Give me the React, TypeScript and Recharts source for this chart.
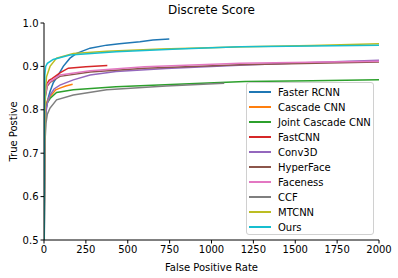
import React from 'react';
import { LineChart, Line, XAxis, YAxis } from 'recharts';

const fasterRcnnFp = [0, 5, 12, 20, 36, 55, 85, 115, 155, 195, 275, 374, 450, 573, 650, 748];
const fasterRcnnTp = [0.4, 0.75, 0.8, 0.82, 0.842, 0.862, 0.88, 0.9, 0.919, 0.93, 0.942, 0.949, 0.952, 0.957, 0.961, 0.963];
const cascadeFp = [0, 4, 8, 15, 30, 48, 70, 95, 130, 171];
const cascadeTp = [0.4, 0.75, 0.8, 0.816, 0.828, 0.836, 0.846, 0.85, 0.855, 0.859];
const jointFp = [0, 4, 10, 20, 36, 75, 175, 430, 940, 1200, 1600, 2000];
const jointTp = [0.4, 0.72, 0.8, 0.816, 0.826, 0.84, 0.846, 0.853, 0.861, 0.865, 0.867, 0.869];
const fastCnnFp = [0, 3, 8, 15, 30, 48, 95, 145, 250, 378];
const fastCnnTp = [0.4, 0.75, 0.84, 0.858, 0.868, 0.872, 0.885, 0.896, 0.899, 0.902];
const conv3dFp = [0, 4, 10, 20, 36, 60, 95, 175, 275, 430, 730, 1200, 1600, 2000];
const conv3dTp = [0.4, 0.7, 0.79, 0.815, 0.834, 0.848, 0.857, 0.869, 0.88, 0.888, 0.895, 0.903, 0.909, 0.914];
const hyperFaceFp = [0, 3, 8, 20, 36, 95, 275, 600, 1170, 2000];
const hyperFaceTp = [0.4, 0.75, 0.83, 0.855, 0.863, 0.877, 0.887, 0.896, 0.904, 0.91];
const facenessFp = [0, 3, 8, 20, 36, 95, 275, 600, 1170, 2000];
const facenessTp = [0.4, 0.76, 0.835, 0.858, 0.865, 0.88, 0.89, 0.899, 0.907, 0.912];
const ccfFp = [0, 5, 12, 20, 36, 75, 175, 374, 730, 1076];
const ccfTp = [0.4, 0.72, 0.77, 0.79, 0.804, 0.823, 0.834, 0.846, 0.855, 0.861];
const mtcnnFp = [0, 3, 8, 15, 36, 75, 175, 374, 700, 1200, 1600, 2000];
const mtcnnTp = [0.4, 0.75, 0.84, 0.876, 0.9, 0.919, 0.93, 0.935, 0.94, 0.945, 0.948, 0.952];
const oursFp = [0, 2, 5, 10, 20, 55, 155, 430, 800, 1170, 1600, 2000];
const oursTp = [0.4, 0.8, 0.88, 0.9, 0.907, 0.916, 0.926, 0.934, 0.94, 0.945, 0.947, 0.949];

const xTicks = [0, 250, 500, 750, 1000, 1250, 1500, 1750, 2000];
const yTicks = [0.5, 0.6, 0.7, 0.8, 0.9, 1.0];

const series = [
  { name: 'Faster RCNN', color: '#1f77b4', fp: fasterRcnnFp, tp: fasterRcnnTp },
  { name: 'Cascade CNN', color: '#ff7f0e', fp: cascadeFp, tp: cascadeTp },
  { name: 'Joint Cascade CNN', color: '#2ca02c', fp: jointFp, tp: jointTp },
  { name: 'FastCNN', color: '#d62728', fp: fastCnnFp, tp: fastCnnTp },
  { name: 'Conv3D', color: '#9467bd', fp: conv3dFp, tp: conv3dTp },
  { name: 'HyperFace', color: '#8c564b', fp: hyperFaceFp, tp: hyperFaceTp },
  { name: 'Faceness', color: '#e377c2', fp: facenessFp, tp: facenessTp },
  { name: 'CCF', color: '#7f7f7f', fp: ccfFp, tp: ccfTp },
  { name: 'MTCNN', color: '#bcbd22', fp: mtcnnFp, tp: mtcnnTp },
  { name: 'Ours', color: '#17becf', fp: oursFp, tp: oursTp },
];

const font = 'DejaVu Sans, sans-serif';
const tickStyle = { fontSize: 10, fill: '#000', fontFamily: font };

export default function App() {
  return (
    <div style={{ position: 'absolute', left: 0, top: 0, width: 398, height: 278, background: '#fff', fontFamily: font }}>
      <div style={{ position: 'absolute', left: 44, width: 335, top: 3, textAlign: 'center', fontSize: 12, color: '#000' }}>
        Discrete Score
      </div>
      <LineChart width={398} height={278} margin={{ top: 23, right: 19, bottom: 0, left: 0 }}>
        <XAxis
          type="number"
          dataKey="x"
          domain={[0, 2000]}
          ticks={xTicks}
          allowDataOverflow
          height={38}
          tick={tickStyle}
          tickSize={3.5}
          tickMargin={2}
          stroke="#000"
          label={{ value: 'False Positive Rate', position: 'insideBottom', offset: 7, style: { fontSize: 10, fill: '#000', fontFamily: font } }}
        />
        <XAxis xAxisId="top" orientation="top" type="number" domain={[0, 2000]} height={0} tick={false} tickLine={false} stroke="#000" />
        <YAxis
          type="number"
          domain={[0.5, 1]}
          ticks={yTicks}
          allowDataOverflow
          width={44}
          tick={tickStyle}
          tickSize={3.5}
          tickMargin={2}
          tickFormatter={(v: number) => v.toFixed(1)}
          stroke="#000"
          label={{ value: 'True Postive', angle: -90, position: 'center', dx: -9, style: { fontSize: 10, fill: '#000', fontFamily: font } }}
        />
        <YAxis yAxisId="right" orientation="right" type="number" domain={[0.5, 1]} width={0} tick={false} tickLine={false} stroke="#000" />
        {series.map((s) => (
          <Line
            key={s.name}
            data={s.fp.map((x, i) => ({ x, y: s.tp[i] }))}
            dataKey="y"
            stroke={s.color}
            strokeWidth={1.5}
            dot={false}
            type="linear"
            isAnimationActive={false}
          />
        ))}
      </LineChart>
      <div
        style={{
          position: 'absolute',
          left: 246,
          top: 82,
          width: 126,
          height: 151,
          border: '1px solid #d0d0d0',
          borderRadius: 3,
          background: 'rgba(255,255,255,0.85)',
        }}
      >
        {series.map((s, i) => (
          <div key={s.name} style={{ position: 'absolute', left: 2, top: 3 + i * 15, height: 12, display: 'flex', alignItems: 'center' }}>
            <div style={{ width: 22, height: 2, background: s.color }} />
            <div style={{ marginLeft: 7, fontSize: 10, color: '#000', whiteSpace: 'nowrap' }}>{s.name}</div>
          </div>
        ))}
      </div>
    </div>
  );
}
